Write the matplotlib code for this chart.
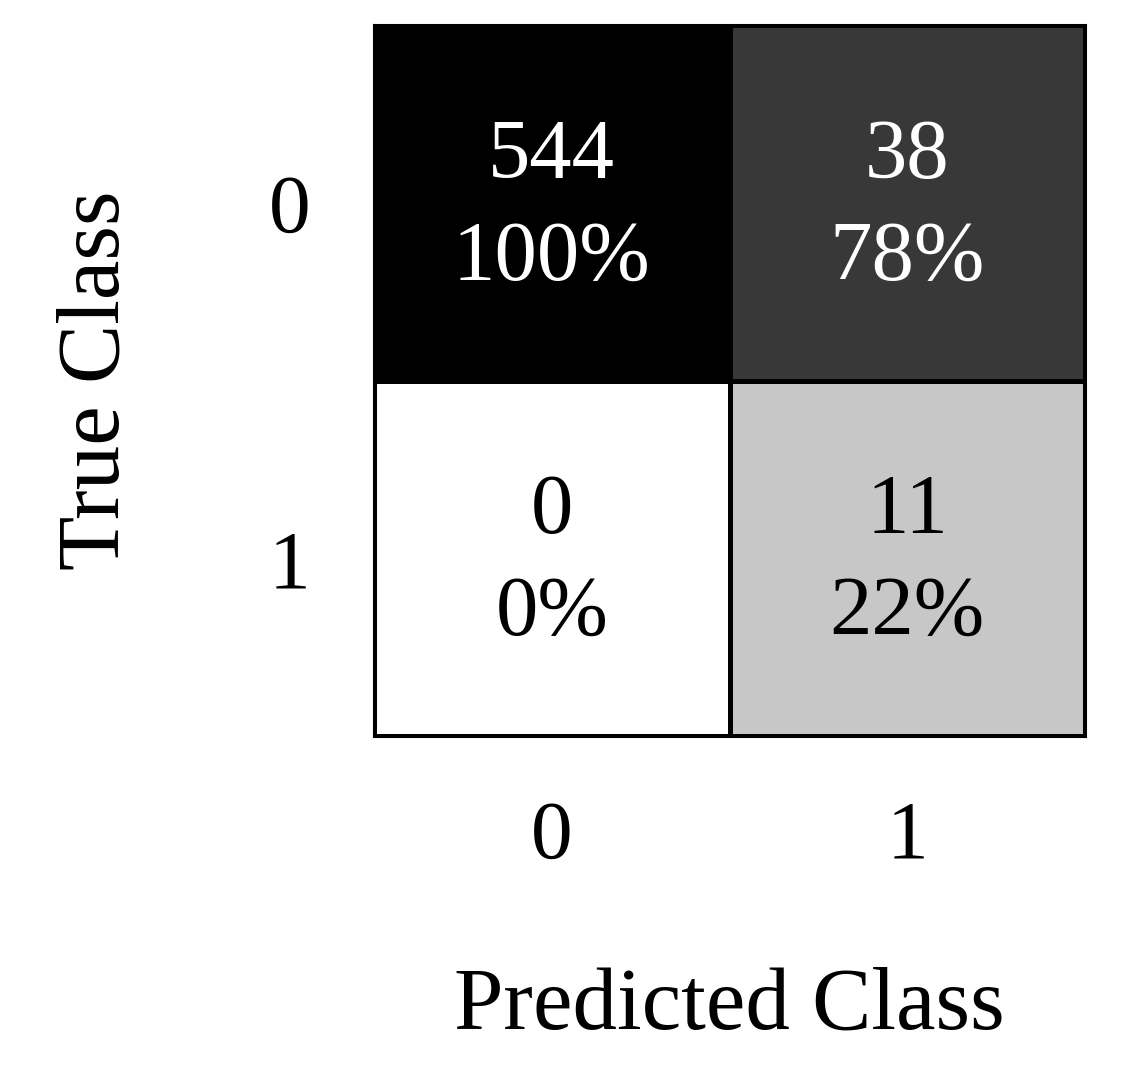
import numpy as np
import matplotlib
matplotlib.use("Agg")
import matplotlib.pyplot as plt

classes = ["0", "1"]
counts = [[544, 38],
          [0, 11]]
percents = [[100, 78],
            [0, 22]]

plt.rcParams['font.family'] = ['Liberation Serif', 'DejaVu Serif']

fig = plt.figure(figsize=(11.42, 10.84), dpi=100)
ax = fig.add_axes([374/1142, 1 - 736/1084, (1085-374)/1142, (736-25)/1084])

vals = np.array(percents, dtype=float) / 100.0
ax.pcolormesh(vals, cmap='gray_r', vmin=0, vmax=1, edgecolors='black', linewidth=2.2)
ax.set_xlim(0, 2)
ax.set_ylim(2, 0)

for i in range(2):
    for j in range(2):
        c = 'white' if vals[i, j] > 0.5 else 'black'
        ax.text(j + 0.5, i + 0.515, f"{counts[i][j]}\n{percents[i][j]}%",
                ha='center', va='center', color=c, fontsize=61, linespacing=1.42)

ax.set_xticks([0.5, 1.5])
ax.set_xticklabels(classes)
ax.set_yticks([0.5, 1.5])
ax.set_yticklabels(classes)
ax.tick_params(length=0, labelsize=60)
ax.tick_params(axis='x', pad=46)
ax.tick_params(axis='y', pad=46)
for s in ax.spines.values():
    s.set_linewidth(2.2)

ax.set_xlabel("Predicted Class", fontsize=64, labelpad=66)
ax.set_ylabel("True Class", fontsize=64, labelpad=94)

fig.savefig("out.png", dpi=100)
